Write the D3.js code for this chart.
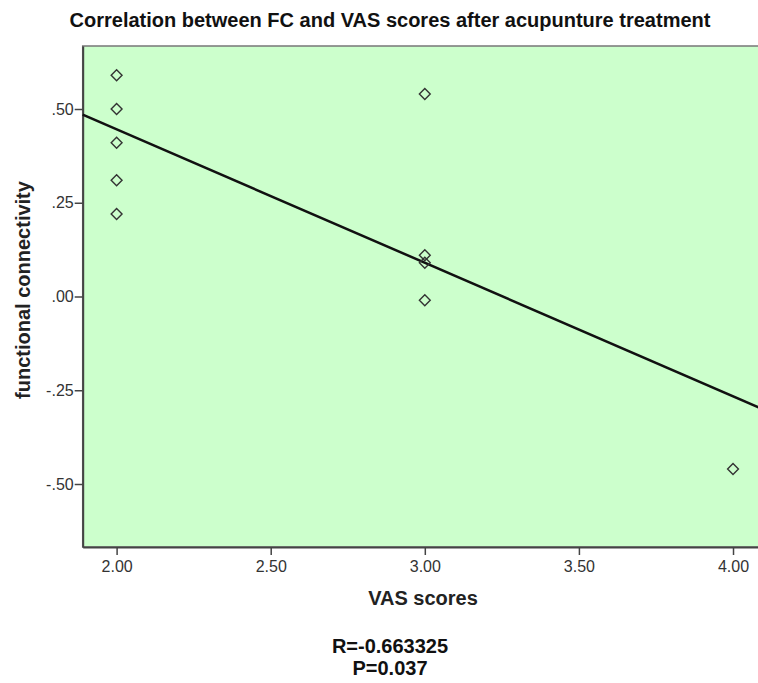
<!DOCTYPE html>
<html lang="en">
<head>
    <meta charset="UTF-8">
    <title>Correlation between FC and VAS scores</title>
    <script src="https://d3js.org/d3.v7.min.js"></script>
    <style>
        body {
            margin: 0;
            padding: 0;
            background-color: #fff;
            overflow: hidden;
        }
        text {
            font-family: Arial, "Liberation Sans", sans-serif;
        }
    </style>
</head>
<body>
    <div id="chart"></div>

    <script>
        // VAS scores and functional connectivity values
        const vasScores = [2, 2, 2, 2, 2, 3, 3, 3, 3, 4];
        const fcValues = [0.59, 0.50, 0.41, 0.31, 0.22, 0.54, 0.11, 0.09, -0.01, -0.46];

        // fit line as drawn in the picture (y = intercept + slope * x)
        const fitIntercept = 1.158;
        const fitSlope = -0.356;

        const xTicks = [2.0, 2.5, 3.0, 3.5, 4.0];
        const xTickLabels = ["2.00", "2.50", "3.00", "3.50", "4.00"];
        const yTicks = [0.5, 0.25, 0, -0.25, -0.5];
        const yTickLabels = [".50", ".25", ".00", "-.25", "-.50"];

        const statLines = ["R=-0.663325", "P=0.037"];

        const W = 758, H = 683;
        const plot = { left: 82.7, right: 770, top: 46, bottom: 547 };

        const svg = d3.select("#chart").append("svg")
            .attr("width", W)
            .attr("height", H);

        const x = d3.scaleLinear().domain([1.89, 4.12]).range([plot.left, plot.right]);
        const y = d3.scaleLinear().domain([-0.668, 0.668]).range([plot.bottom, plot.top]);

        // green plot background
        svg.append("rect")
            .attr("x", plot.left)
            .attr("y", plot.top)
            .attr("width", plot.right - plot.left)
            .attr("height", plot.bottom - plot.top)
            .attr("fill", "#ccffcc")
            .attr("stroke", "#777")
            .attr("stroke-width", 1.5);

        // axes
        const xAxis = d3.axisBottom(x)
            .tickValues(xTicks)
            .tickSize(8)
            .tickSizeOuter(0)
            .tickFormat((d, i) => xTickLabels[i]);

        const yAxis = d3.axisLeft(y)
            .tickValues(yTicks)
            .tickSize(8)
            .tickSizeOuter(0)
            .tickFormat((d, i) => yTickLabels[i]);

        const gx = svg.append("g")
            .attr("transform", `translate(0,${plot.bottom})`)
            .call(xAxis);

        const gy = svg.append("g")
            .attr("transform", `translate(${plot.left},0)`)
            .call(yAxis);

        [gx, gy].forEach(g => {
            g.select(".domain").attr("stroke", "#444").attr("stroke-width", 2);
            g.selectAll(".tick line").attr("stroke", "#444").attr("stroke-width", 1.5);
            g.selectAll(".tick text")
                .attr("fill", "#333")
                .style("font-size", "16px")
                .style("font-family", "Arial, 'Liberation Sans', sans-serif");
        });
        gx.selectAll(".tick text").attr("y", 10).attr("dy", "0.95em");
        gy.selectAll(".tick text").attr("x", -9);

        // regression line
        const fitData = x.domain().map(v => ({ x: v, y: fitIntercept + fitSlope * v }));
        svg.append("path")
            .datum(fitData)
            .attr("d", d3.line().x(d => x(d.x)).y(d => y(d.y)))
            .attr("fill", "none")
            .attr("stroke", "#111")
            .attr("stroke-width", 2.5);

        // diamond markers
        const diamond = d3.symbol().type(d3.symbolDiamond2).size(75);
        svg.append("g")
            .selectAll("path")
            .data(vasScores.map((v, i) => ({ x: v, y: fcValues[i] })))
            .join("path")
            .attr("d", diamond)
            .attr("transform", d => `translate(${x(d.x)},${y(d.y)})`)
            .attr("fill", "none")
            .attr("stroke", "#333")
            .attr("stroke-width", 1.4);

        // title and axis titles
        svg.append("text")
            .attr("x", 390)
            .attr("y", 27)
            .attr("text-anchor", "middle")
            .style("font-size", "20px")
            .style("font-weight", "bold")
            .attr("fill", "#111")
            .text("Correlation between FC and VAS scores after acupunture treatment");

        svg.append("text")
            .attr("x", 423)
            .attr("y", 605)
            .attr("text-anchor", "middle")
            .style("font-size", "20px")
            .style("font-weight", "bold")
            .attr("fill", "#222")
            .text("VAS scores");

        svg.append("text")
            .attr("transform", "translate(30,290) rotate(-90)")
            .attr("text-anchor", "middle")
            .style("font-size", "20px")
            .style("font-weight", "bold")
            .attr("fill", "#222")
            .text("functional connectivity");

        // correlation stats below
        svg.selectAll(".stat")
            .data(statLines)
            .join("text")
            .attr("class", "stat")
            .attr("x", 390)
            .attr("y", (d, i) => 653 + i * 22)
            .attr("text-anchor", "middle")
            .style("font-size", "20px")
            .style("font-weight", "bold")
            .attr("fill", "#111")
            .text(d => d);
    </script>
</body>
</html>
